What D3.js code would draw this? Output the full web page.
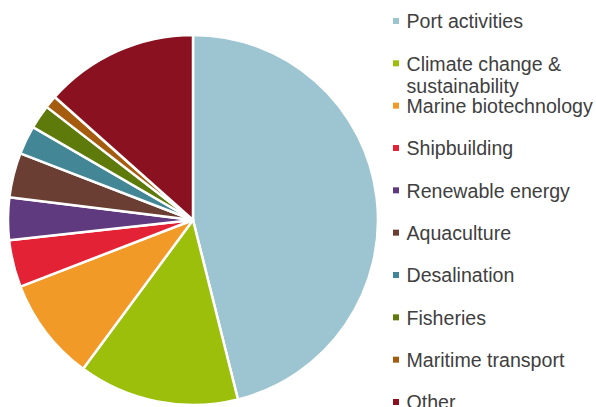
<!DOCTYPE html>
<html><head><meta charset="utf-8">
<script src="https://cdn.jsdelivr.net/npm/d3@7"></script>
<style>body{margin:0;background:#fff}svg{display:block}</style>
</head><body>
<svg id="c" width="596" height="407"></svg>
<script>
const categories = ["Port activities","Climate change & sustainability","Marine biotechnology","Shipbuilding","Renewable energy","Aquaculture","Desalination","Fisheries","Maritime transport","Other"];
const values = [46, 14, 9, 4.1, 3.7, 3.9, 2.5, 2.1, 1.1, 13.4];
const colors = ["#9DC4D1","#9CBF0C","#F29A28","#E42236","#5F3A7E","#6A3E33","#438797","#5D7A0A","#A65C0F","#8A1220"];
const legendLines = [["Port activities"],["Climate change &","sustainability"],["Marine biotechnology"],["Shipbuilding"],["Renewable energy"],["Aquaculture"],["Desalination"],["Fisheries"],["Maritime transport"],["Other"]];

const svg = d3.select("#c");
const cx = 193, cy = 220, r = 185;
const pie = d3.pie().sort(null).value(d => d)(values);
const arc = d3.arc().innerRadius(0).outerRadius(r);
svg.append("g").attr("transform",`translate(${cx},${cy})`)
  .selectAll("path").data(pie).join("path")
  .attr("d", arc).attr("fill",(d,i)=>colors[i])
  .attr("stroke","#fff").attr("stroke-width",2.5).attr("stroke-linejoin","round");

const ly = d3.scalePoint().domain(categories).range([21, 402]);
const lg = svg.append("g").selectAll("g").data(categories).join("g")
  .attr("transform", d => `translate(393,${ly(d)})`);
lg.append("rect").attr("x",0).attr("y",-3).attr("width",6).attr("height",6).attr("fill",(d,i)=>colors[i]);
lg.each(function(d,i){
  const t = d3.select(this).append("text").attr("x",13.5).attr("y",0)
    .attr("font-family","Liberation Sans, Arial, sans-serif").attr("font-size",19.6).attr("fill","#404040");
  legendLines[i].forEach((ln,j)=>{
    t.append("tspan").attr("x",13.5).attr("dy", j===0 ? "0.38em" : 22.5).text(ln);
  });
});
</script>
</body></html>
